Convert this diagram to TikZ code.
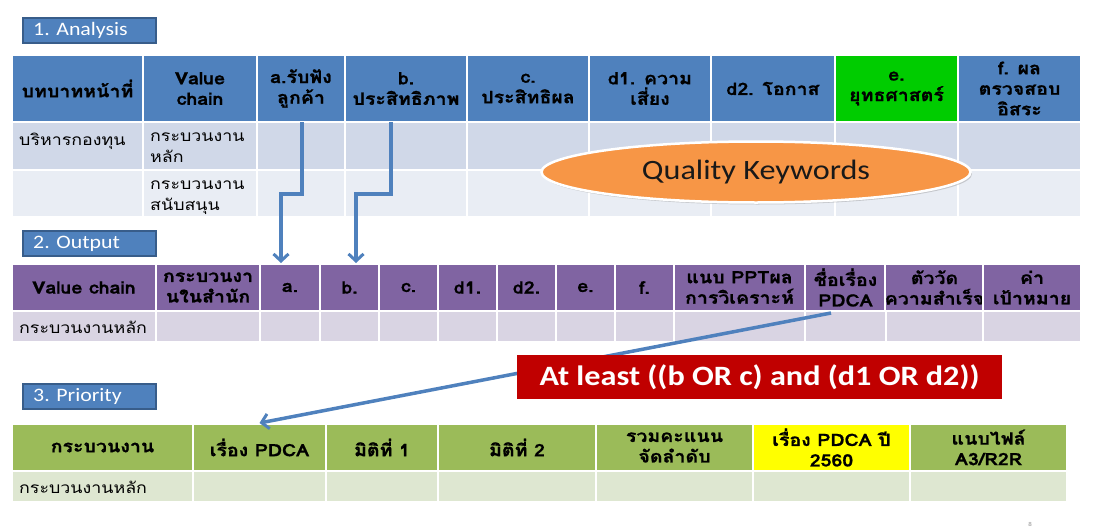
\documentclass[tikz,border=0pt]{standalone}
\usepackage{fontspec}
\usetikzlibrary{arrows.meta,calc,shapes.geometric,shadows}
\setmainfont{Carlito}[FakeStretch=1.15]
\newfontfamily\thfont{Loma}[Script=Thai, FakeStretch=1.15, BoldFeatures={FakeBold=0.8}]

\definecolor{hdrblue}{HTML}{4F81BD}
\definecolor{lblborder}{HTML}{385D8A}
\definecolor{rowblueA}{HTML}{D0D8E8}
\definecolor{rowblueB}{HTML}{E9EDF4}
\definecolor{hdrgreenE}{HTML}{00CC00}
\definecolor{hdrpurple}{HTML}{8064A2}
\definecolor{rowpurple}{HTML}{D9D4E3}
\definecolor{hdrolive}{HTML}{9BBB59}
\definecolor{rowolive}{HTML}{DEE7D1}
\definecolor{hlyellow}{HTML}{FFFF00}
\definecolor{boxred}{HTML}{C00000}
\definecolor{kworange}{HTML}{F79646}

% one table cell: name, x1, y1, x2, y2, fill, text
\newcommand{\mkcell}[7]{%
  \node[cellbox, fill=#6, minimum width={(#4-#2)*1pt}, minimum height={(#5-#3)*1pt}]
    (#1) at ({(#2+#4)/2},{(#3+#5)/2}) {#7};}

\tikzset{
  cellbox/.style={draw=white, line width=2pt, inner sep=0pt, align=center,
    font=\thfont\bfseries\fontsize{17}{20.5}\selectfont, text=black},
  rowtext/.style={anchor=west, inner sep=0pt, align=left,
    font=\thfont\fontsize{15.5}{20.5}\selectfont, text=black},
  sectionlabel/.style={draw=lblborder, line width=1.2pt, fill=hdrblue,
    minimum width=133pt, minimum height=25pt, inner sep=0pt},
  sectiontext/.style={anchor=west, inner sep=0pt, text=white,
    font=\fontsize{19}{22}\selectfont},
  flowarrow/.style={draw=hdrblue, line width=3.5pt,
    -{Straight Barb[length=7pt,width=15pt,line width=3pt]}},
}

\begin{document}
\begin{tikzpicture}[x=1pt,y=-1pt]
\useasboundingbox (0,0) rectangle (1094,530);

% ---------- 1. Analysis ----------
\node[sectionlabel] (lab1) at (89.5,30.5) {};
\node[sectiontext] (lab1t) at (33,30.5) {1. Analysis};

\mkcell{a1}{12}{55}{143}{122}{hdrblue}{บทบาทหน้าที่}
\mkcell{a2}{143}{55}{257}{122}{hdrblue}{Value\\chain}
\mkcell{a3}{257}{55}{345}{122}{hdrblue}{a.รับฟัง\\ลูกค้า}
\mkcell{a4}{345}{55}{467}{122}{hdrblue}{b.\\ประสิทธิภาพ}
\mkcell{a5}{467}{55}{589}{122}{hdrblue}{c.\\ประสิทธิผล}
\mkcell{a6}{589}{55}{711}{122}{hdrblue}{d1. ความ\\เสี่ยง}
\mkcell{a7}{711}{55}{835}{122}{hdrblue}{d2. โอกาส}
\mkcell{a8}{835}{55}{958}{122}{hdrgreenE}{e.\\ยุทธศาสตร์}
\mkcell{a9}{958}{55}{1081}{122}{hdrblue}{f. ผล\\ตรวจสอบ\\อิสระ}

\foreach \i/\xa/\xb in {1/12/143,2/143/257,3/257/345,4/345/467,5/467/589,6/589/711,7/711/835,8/835/958,9/958/1081}{
  \mkcell{r1c\i}{\xa}{122}{\xb}{170}{rowblueA}{}
  \mkcell{r2c\i}{\xa}{170}{\xb}{217}{rowblueB}{}
}
\node[rowtext, anchor=north west] (t11) at (19,133) {บริหารกองทุน};
\node[rowtext, anchor=north west] (t12) at (150,133) {กระบวนงาน\\หลัก};
\node[rowtext, anchor=north west] (t22) at (150,181) {กระบวนงาน\\สนับสนุน};

% ---------- 2. Output ----------
\node[sectionlabel] (lab2) at (89.5,243.5) {};
\node[sectiontext] (lab2t) at (33,243.5) {2. Output};

\mkcell{o1}{12}{264}{156}{311}{hdrpurple}{Value chain}
\mkcell{o2}{156}{264}{260}{311}{hdrpurple}{กระบวนงา\\นในสำนัก}
\mkcell{o3}{260}{264}{320}{311}{hdrpurple}{a.}
\mkcell{o4}{320}{264}{379}{311}{hdrpurple}{b.}
\mkcell{o5}{379}{264}{438}{311}{hdrpurple}{c.}
\mkcell{o6}{438}{264}{497}{311}{hdrpurple}{d1.}
\mkcell{o7}{497}{264}{556}{311}{hdrpurple}{d2.}
\mkcell{o8}{556}{264}{615}{311}{hdrpurple}{e.}
\mkcell{o9}{615}{264}{674}{311}{hdrpurple}{f.}
\mkcell{o10}{674}{264}{805}{311}{hdrpurple}{แนบ PPTผล\\การวิเคราะห์}
\mkcell{o11}{805}{264}{886}{311}{hdrpurple}{ชื่อเรื่อง\\PDCA}
\mkcell{o12}{886}{264}{983}{311}{hdrpurple}{ตัววัด\\ความสำเร็จ}
\mkcell{o13}{983}{264}{1081}{311}{hdrpurple}{ค่า\\เป้าหมาย}

\foreach \i/\xa/\xb in {1/12/156,2/156/260,3/260/320,4/320/379,5/379/438,6/438/497,7/497/556,8/556/615,9/615/674,10/674/805,11/805/886,12/886/983,13/983/1081}{
  \mkcell{or\i}{\xa}{311}{\xb}{342}{rowpurple}{}
}
\node[rowtext] (ot1) at (19,327) {กระบวนงานหลัก};

% ---------- 3. Priority ----------
\node[sectionlabel] (lab3) at (89.5,396.5) {};
\node[sectiontext] (lab3t) at (33,396.5) {3. Priority};

\mkcell{p1}{12}{424}{193}{471}{hdrolive}{กระบวนงาน}
\mkcell{p2}{193}{424}{326}{471}{hdrolive}{เรื่อง PDCA}
\mkcell{p3}{326}{424}{438}{471}{hdrolive}{มิติที่ 1}
\mkcell{p4}{438}{424}{596}{471}{hdrolive}{มิติที่ 2}
\mkcell{p5}{596}{424}{753}{471}{hdrolive}{รวมคะแนน\\จัดลำดับ}
\mkcell{p6}{753}{424}{910}{471}{hlyellow}{เรื่อง PDCA ปี\\2560}
\mkcell{p7}{910}{424}{1067}{471}{hdrolive}{แนบไฟล์\\A3/R2R}

\foreach \i/\xa/\xb in {1/12/193,2/193/326,3/326/438,4/438/596,5/596/753,6/753/910,7/910/1067}{
  \mkcell{pr\i}{\xa}{471}{\xb}{502}{rowolive}{}
}
\node[rowtext] (pt1) at (19,487) {กระบวนงานหลัก};

% ---------- connectors ----------
\coordinate (bendA) at (281,194);
\coordinate (bendB) at (356,194);
\coordinate (srcA) at (302,122);
\coordinate (srcB) at (391,122);
\draw[flowarrow] (srcA) |- (bendA) -- (bendA |- o3.north);
\draw[flowarrow] (srcB) |- (bendB) -- (bendB |- o4.north);

\coordinate (srcP) at (831,313);
\draw[flowarrow] (srcP) -- (p2.north);

% ---------- callouts ----------
\node[ellipse, fill=kworange, draw=white, line width=2.5pt,
      minimum width=429pt, minimum height=61pt, inner sep=0pt,
      drop shadow={opacity=0.35, shadow xshift=1.5pt, shadow yshift=-2pt},
      font=\fontsize{28}{32}\selectfont, text=black!90] (kw) at (756,172) {Quality Keywords};

\node[fill=boxred, minimum width=485pt, minimum height=44pt, inner sep=0pt,
      font=\bfseries\fontsize{28}{32}\selectfont, text=white] (rule) at (759.5,377)
      {At least ((b OR c) and (d1 OR d2))};

% page number
\node[text=black!45, font=\fontsize{6}{7}\selectfont, inner sep=0pt] (pg) at (1030,524) {8};
\end{tikzpicture}
\end{document}
